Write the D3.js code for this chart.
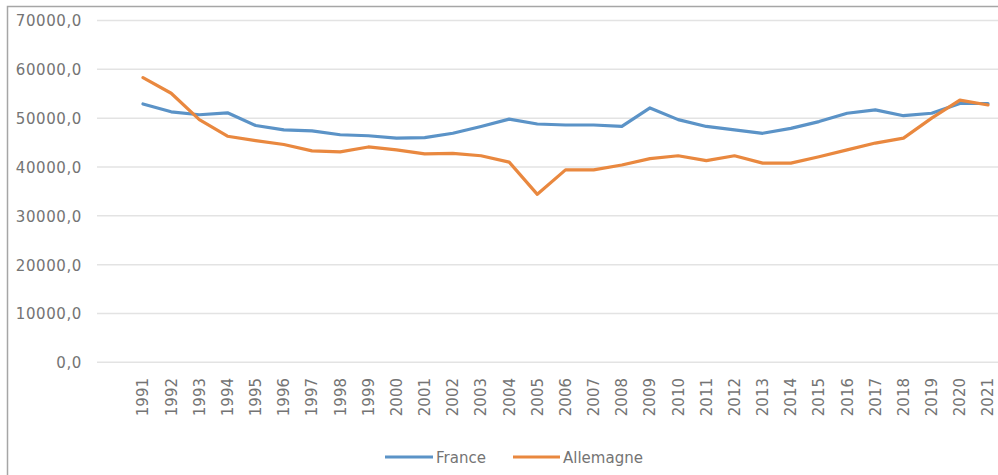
<!DOCTYPE html>
<html><head><meta charset="utf-8">
<script src="https://cdn.jsdelivr.net/npm/d3@7"></script>
<style>body{margin:0;background:#fff}svg{display:block}</style>
</head><body>
<svg id="c" width="998" height="475"></svg>
<script>
const years = d3.range(1991, 2022).map(String);
const france = [52900,51300,50700,51100,48500,47600,47400,46600,46400,45900,46000,46900,48300,49800,48800,48600,48600,48300,52100,49700,48300,47600,46900,47900,49300,51000,51700,50500,51000,53000,53000];
const allemagne = [58300,55100,49700,46300,45400,44600,43300,43100,44100,43500,42700,42800,42300,41000,34400,39400,39400,40400,41700,42300,41300,42300,40800,40800,42100,43500,44900,45900,50000,53700,52700];
const yTicks = [0,10000,20000,30000,40000,50000,60000,70000];
const seriesNames = ["France","Allemagne"];
const colors = ["#5b93c7","#e9883f"];

const svg = d3.select("#c");
const fmt = v => d3.format(".1f")(v).replace(".", ",");
const FONT = "DejaVu Sans, sans-serif";
const TXT = "#747474";

const x = d3.scalePoint().domain(years).range([143, 988]);
const y = d3.scaleLinear().domain([0,70000]).range([362.3, 20.5]);

// frame
svg.append("path").attr("d","M7.5,475 L7.5,6.5 L998,6.5").attr("fill","none").attr("stroke","#a6a6a6").attr("stroke-width",1.5);

// gridlines
svg.append("g").selectAll("line").data(yTicks).join("line")
  .attr("x1",97).attr("x2",998).attr("y1",d=>y(d)).attr("y2",d=>y(d))
  .attr("stroke","#e3e3e3").attr("stroke-width",1.5);

// y axis
const yAxis = svg.append("g").attr("transform","translate(82,0)")
  .call(d3.axisLeft(y).tickValues(yTicks).tickFormat(fmt).tickSize(0).tickPadding(0));
yAxis.select(".domain").remove();
yAxis.selectAll("text").attr("font-family",FONT).attr("font-size",15).attr("letter-spacing","0.6px").attr("fill",TXT).attr("dy","0.36em");

// x axis
const xAxis = svg.append("g").attr("transform","translate(0,378)")
  .call(d3.axisBottom(x).tickSize(0).tickPadding(0));
xAxis.select(".domain").remove();
xAxis.selectAll("text")
  .attr("font-family",FONT).attr("font-size",15).attr("fill",TXT)
  .attr("transform","rotate(-90)").attr("text-anchor","end")
  .attr("x",0).attr("y",0).attr("dy","0.33em");

// lines
const line = d3.line().x((d,i)=>x(years[i])).y(d=>y(d));
[france, allemagne].forEach((s,k)=>{
  svg.append("path").datum(s).attr("d",line).attr("fill","none")
    .attr("stroke",colors[k]).attr("stroke-width",3.2).attr("stroke-linejoin","round").attr("stroke-linecap","round");
});

// legend
const leg = [{x1:385,x2:433,tx:436},{x1:513,x2:560,tx:563}];
seriesNames.forEach((n,k)=>{
  svg.append("line").attr("x1",leg[k].x1).attr("x2",leg[k].x2).attr("y1",457).attr("y2",457)
    .attr("stroke",colors[k]).attr("stroke-width",3.2);
  svg.append("text").attr("x",leg[k].tx).attr("y",458).attr("dy","0.36em")
    .attr("font-family",FONT).attr("font-size",15).attr("fill",TXT).text(n);
});
</script>
</body></html>
